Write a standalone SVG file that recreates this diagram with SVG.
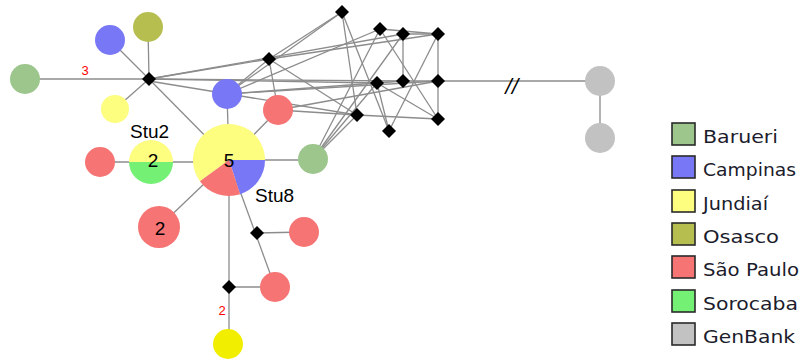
<svg xmlns="http://www.w3.org/2000/svg" width="803" height="360" viewBox="0 0 803 360">
  <style>
    .edge { stroke: #8c8c8c; stroke-width: 1.3; fill: none; }
    .mv { fill: #000000; }
    .barueri { fill: #9cc68c; }
    .campinas { fill: #7878f6; }
    .jundiai { fill: #fdfd80; }
    .osasco { fill: #b6be50; }
    .saopaulo { fill: #f67474; }
    .sorocaba { fill: #74f074; }
    .genbank { fill: #c2c2c2; }
    .strong { fill: #f2ee00; }
    .count { font-family: "Liberation Sans", Arial, sans-serif; font-size: 19px; fill: #000; text-anchor: middle; }
    .name { font-family: "Liberation Sans", Arial, sans-serif; font-size: 19px; fill: #000; }
    .steps { font-family: "Liberation Sans", Arial, sans-serif; font-size: 13px; fill: #ff0000; text-anchor: middle; }
    .legtext { font-family: "DejaVu Sans", Verdana, sans-serif; font-size: 17px; fill: #1c1c2c; }
    .legbox { stroke: #2a2a2a; stroke-width: 1.6; }
  </style>
  <defs>
    <path id="mvShape" d="M0,-7 L7,0 L0,7 L-7,0 Z"/>
  </defs>

  <!-- connectors -->
  <g id="connectors">
    <!-- hub star -->
    <line class="edge" x1="149" y1="79" x2="25" y2="79"/>
    <line class="edge" x1="149" y1="79" x2="110" y2="40"/>
    <line class="edge" x1="149" y1="79" x2="148" y2="27"/>
    <line class="edge" x1="149" y1="79" x2="115" y2="109"/>
    <line class="edge" x1="149" y1="79" x2="229" y2="160"/>
    <!-- central haplotype -->
    <line class="edge" x1="100" y1="162" x2="229" y2="162"/>
    <line class="edge" x1="229" y1="160" x2="313" y2="160"/>
    <line class="edge" x1="229" y1="160" x2="227" y2="94"/>
    <line class="edge" x1="229" y1="160" x2="278" y2="110"/>
    <line class="edge" x1="229" y1="160" x2="159" y2="227"/>
    <line class="edge" x1="229" y1="160" x2="229" y2="344"/>
    <line class="edge" x1="236" y1="180" x2="275" y2="287"/>
    <line class="edge" x1="257" y1="233" x2="304" y2="232"/>
    <line class="edge" x1="229" y1="287" x2="275" y2="287"/>
    <!-- median vector mesh -->
    <line class="edge" x1="149" y1="79" x2="269" y2="59"/>
    <line class="edge" x1="149" y1="79" x2="403" y2="34"/>
    <line class="edge" x1="149" y1="79" x2="403" y2="81"/>
    <line class="edge" x1="149" y1="79" x2="377" y2="83"/>
    <line class="edge" x1="149" y1="81" x2="357" y2="115"/>
    <line class="edge" x1="227" y1="94" x2="269" y2="59"/>
    <line class="edge" x1="227" y1="94" x2="380" y2="29"/>
    <line class="edge" x1="227" y1="94" x2="438" y2="81"/>
    <line class="edge" x1="227" y1="94" x2="377" y2="83"/>
    <line class="edge" x1="227" y1="94" x2="342" y2="12"/>
    <line class="edge" x1="269" y1="59" x2="342" y2="12"/>
    <line class="edge" x1="269" y1="59" x2="438" y2="34"/>
    <line class="edge" x1="269" y1="59" x2="357" y2="115"/>
    <line class="edge" x1="269" y1="59" x2="278" y2="110"/>
    <line class="edge" x1="342" y1="12" x2="357" y2="115"/>
    <line class="edge" x1="342" y1="12" x2="389" y2="131"/>
    <line class="edge" x1="380" y1="29" x2="438" y2="119"/>
    <line class="edge" x1="380" y1="29" x2="313" y2="159"/>
    <line class="edge" x1="380" y1="29" x2="438" y2="34"/>
    <line class="edge" x1="403" y1="34" x2="438" y2="34"/>
    <line class="edge" x1="403" y1="34" x2="403" y2="81"/>
    <line class="edge" x1="403" y1="34" x2="313" y2="159"/>
    <line class="edge" x1="438" y1="34" x2="438" y2="119"/>
    <line class="edge" x1="438" y1="34" x2="389" y2="131"/>
    <line class="edge" x1="377" y1="83" x2="403" y2="81"/>
    <line class="edge" x1="377" y1="83" x2="438" y2="119"/>
    <line class="edge" x1="377" y1="83" x2="313" y2="159"/>
    <line class="edge" x1="377" y1="83" x2="389" y2="131"/>
    <line class="edge" x1="403" y1="81" x2="438" y2="81"/>
    <line class="edge" x1="357" y1="115" x2="438" y2="119"/>
    <line class="edge" x1="357" y1="115" x2="313" y2="159"/>
    <line class="edge" x1="278" y1="110" x2="357" y2="115"/>
    <line class="edge" x1="278" y1="110" x2="438" y2="81"/>
    <!-- long branch to the reference sequences -->
    <line class="edge" x1="438" y1="81" x2="600" y2="81"/>
    <line class="edge" x1="600" y1="81" x2="600" y2="138"/>
  </g>

  <!-- median vectors -->
  <g id="mv-hub"><use href="#mvShape" class="mv" x="149" y="79"/></g>
  <g id="mv-e"><use href="#mvShape" class="mv" x="269" y="59"/></g>
  <g id="mv-a"><use href="#mvShape" class="mv" x="342" y="12"/></g>
  <g id="mv-b"><use href="#mvShape" class="mv" x="380" y="29"/></g>
  <g id="mv-c"><use href="#mvShape" class="mv" x="403" y="34"/></g>
  <g id="mv-d"><use href="#mvShape" class="mv" x="438" y="34"/></g>
  <g id="mv-f"><use href="#mvShape" class="mv" x="377" y="83"/></g>
  <g id="mv-g"><use href="#mvShape" class="mv" x="403" y="81"/></g>
  <g id="mv-h"><use href="#mvShape" class="mv" x="438" y="81"/></g>
  <g id="mv-i"><use href="#mvShape" class="mv" x="357" y="115"/></g>
  <g id="mv-j"><use href="#mvShape" class="mv" x="389" y="131"/></g>
  <g id="mv-k"><use href="#mvShape" class="mv" x="438" y="119"/></g>
  <g id="mv-m"><use href="#mvShape" class="mv" x="257" y="233"/></g>
  <g id="mv-n"><use href="#mvShape" class="mv" x="229" y="287"/></g>

  <!-- haplotypes -->
  <g id="hap-barueri-1"><circle class="barueri" cx="25" cy="79" r="15"/></g>
  <g id="hap-campinas-1"><circle class="campinas" cx="110" cy="40" r="15"/></g>
  <g id="hap-osasco"><circle class="osasco" cx="148" cy="27" r="15"/></g>
  <g id="hap-jundiai-1"><circle class="jundiai" cx="115" cy="109" r="14"/></g>
  <g id="hap-campinas-2"><circle class="campinas" cx="227" cy="94" r="15"/></g>
  <g id="hap-saopaulo-1"><circle class="saopaulo" cx="278" cy="110" r="15"/></g>
  <g id="hap-saopaulo-2"><circle class="saopaulo" cx="100" cy="162" r="15"/></g>
  <g id="hap-barueri-2"><circle class="barueri" cx="313" cy="159" r="15"/></g>
  <g id="hap-saopaulo-3"><circle class="saopaulo" cx="304" cy="232" r="15"/></g>
  <g id="hap-saopaulo-4"><circle class="saopaulo" cx="275" cy="287" r="15"/></g>
  <g id="hap-jundiai-2"><circle class="strong" cx="228" cy="344" r="15"/></g>
  <g id="hap-genbank-1"><circle class="genbank" cx="600" cy="81" r="15"/></g>
  <g id="hap-genbank-2"><circle class="genbank" cx="600" cy="138" r="15"/></g>

  <g id="hap-stu2">
    <path class="jundiai" d="M129,162 A22,22 0 0 1 173,162 Z"/>
    <path class="sorocaba" d="M173,162 A22,22 0 0 1 129,162 Z"/>
    <text class="count" x="153" y="167">2</text>
    <text class="name" x="130" y="138">Stu2</text>
  </g>

  <g id="hap-stu8">
    <path class="jundiai" d="M229,160 L199.9,181.2 A36,36 0 1 1 265,160 Z"/>
    <path class="campinas" d="M229,160 L265,160 A36,36 0 0 1 240.1,194.2 Z"/>
    <path class="saopaulo" d="M229,160 L240.1,194.2 A36,36 0 0 1 199.9,181.2 Z"/>
    <text class="count" x="229" y="167">5</text>
    <text class="name" x="255" y="202">Stu8</text>
  </g>

  <g id="hap-saopaulo-5">
    <circle class="saopaulo" cx="159" cy="227" r="21"/>
    <text class="count" x="160" y="235">2</text>
  </g>

  <!-- mutation counts and break mark -->
  <g id="labels">
    <text class="steps" x="85" y="75">3</text>
    <text class="steps" x="222" y="315">2</text>
    <text x="512" y="92" font-family="DejaVu Sans, sans-serif" font-size="19" font-style="italic" text-anchor="middle" fill="#000">//</text>
  </g>

  <!-- legend -->
  <g id="legend">
    <rect class="legbox barueri" x="672" y="123" width="23" height="22"/>
    <text class="legtext" x="703" y="143" textLength="75" lengthAdjust="spacingAndGlyphs">Barueri</text>
    <rect class="legbox campinas" x="672" y="156" width="23" height="22"/>
    <text class="legtext" x="703" y="176" textLength="93" lengthAdjust="spacingAndGlyphs">Campinas</text>
    <rect class="legbox jundiai" x="672" y="190" width="23" height="22"/>
    <text class="legtext" x="703" y="210" textLength="65" lengthAdjust="spacingAndGlyphs">Jundiaí</text>
    <rect class="legbox osasco" x="672" y="223" width="23" height="22"/>
    <text class="legtext" x="703" y="243" textLength="76" lengthAdjust="spacingAndGlyphs">Osasco</text>
    <rect class="legbox saopaulo" x="672" y="256" width="23" height="22"/>
    <text class="legtext" x="703" y="276" textLength="96" lengthAdjust="spacingAndGlyphs">São Paulo</text>
    <rect class="legbox sorocaba" x="672" y="290" width="23" height="22"/>
    <text class="legtext" x="703" y="310" textLength="95" lengthAdjust="spacingAndGlyphs">Sorocaba</text>
    <rect class="legbox genbank" x="672" y="323" width="23" height="22"/>
    <text class="legtext" x="703" y="343" textLength="92" lengthAdjust="spacingAndGlyphs">GenBank</text>
  </g>
</svg>
